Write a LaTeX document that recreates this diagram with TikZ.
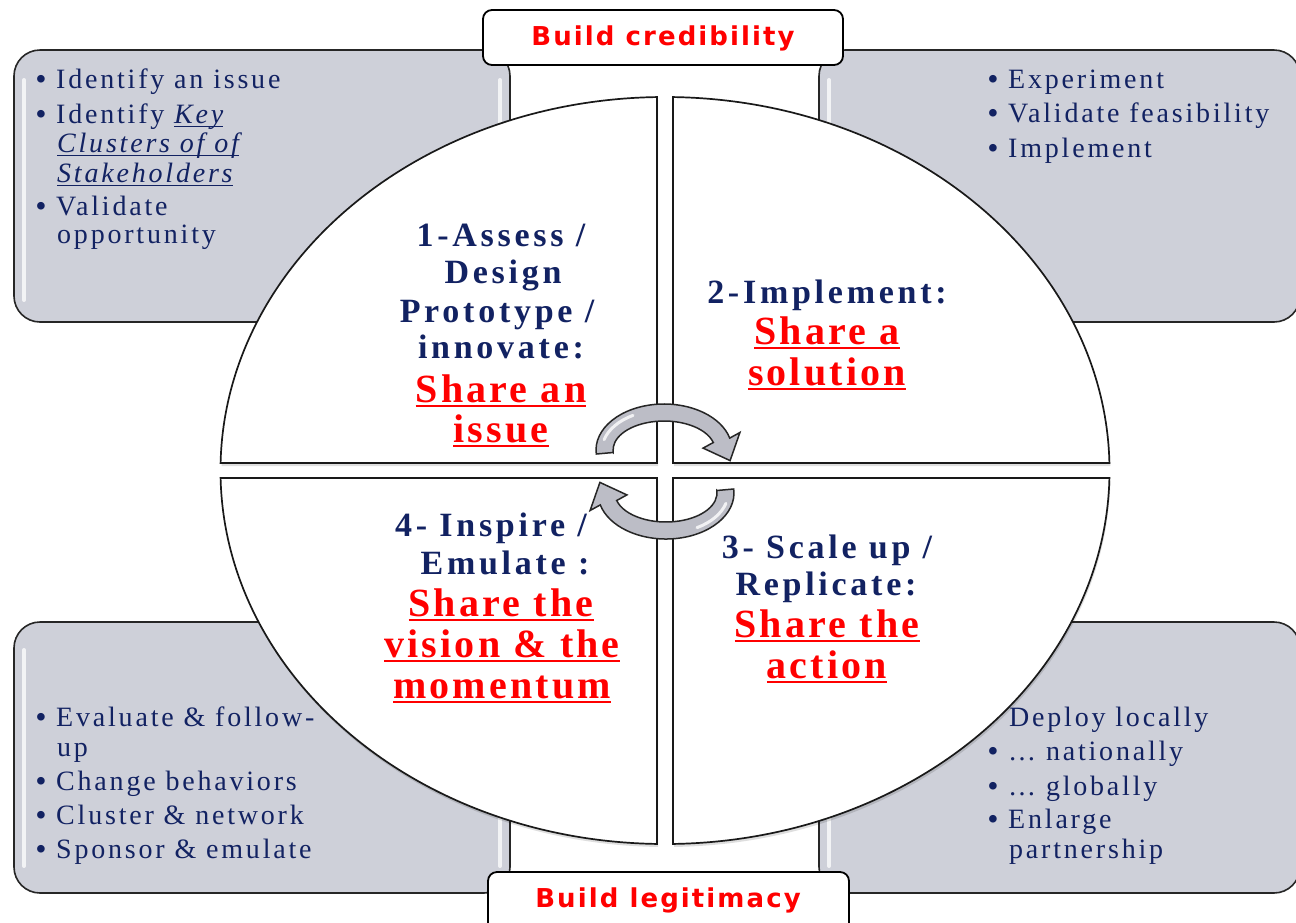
\documentclass[tikz,border=0pt]{standalone}
\usepackage{fontspec}
\setmainfont{Liberation Serif}
\newfontfamily\bfnt[LetterSpace=10]{Liberation Serif}
\newfontfamily\qfnt[LetterSpace=11]{Liberation Serif}
\newfontfamily\rfnt[LetterSpace=8]{Liberation Serif}
\newfontfamily\lfnt[LetterSpace=8]{DejaVu Sans}
\definecolor{navyc}{RGB}{18,34,98}
\definecolor{boxgray}{RGB}{206,208,217}
\definecolor{arrgray}{RGB}{188,189,198}
\definecolor{redc}{RGB}{255,0,0}
\newcommand\myul[3]{\setbox0=\hbox{#3}\rlap{\rule[-#1]{\wd0}{#2}}\box0}
\newcommand\rul[1]{\myul{5pt}{2.2pt}{#1}}
\newcommand\nul[1]{\myul{4pt}{1.3pt}{\itshape #1}}
\newcommand\bu{\makebox[20pt][l]{\bfseries •}}
\newcommand\qTL{(657,463) -- (657,97.06) arc[start angle=268.97,end angle=181.15,x radius=444.5,y radius=373.5] -- cycle}
\newcommand\qTR{(673,463) -- (673,97.06) arc[start angle=271.03,end angle=358.85,x radius=444.5,y radius=373.5] -- cycle}
\newcommand\qBL{(657,478) -- (657,843.94) arc[start angle=91.03,end angle=178.85,x radius=444.5,y radius=373.5] -- cycle}
\newcommand\qBR{(673,478) -- (673,843.94) arc[start angle=88.97,end angle=1.15,x radius=444.5,y radius=373.5] -- cycle}
\newcommand\cycarrow{%
  \draw[arrowshape] (-50.8,2.5) -- (-67.7,4.0) arc[start angle=175,end angle=345,x radius=68,y radius=46] -- (75.9,-17.5) -- (66.1,10.6) -- (39.1,-1.9) -- (49.3,-7.5) arc[start angle=345,end angle=175,x radius=51,y radius=29] -- cycle;
  \draw[white, line width=3pt, opacity=0.8, line cap=round] (0,0) ++(195:62 and 40) arc[start angle=195,end angle=240,x radius=62,y radius=40];}
\tikzset{
  gbox/.style={draw=black!85, line width=1.6pt, fill=boxgray, rounded corners=26pt},
  lbox/.style={draw=black, line width=1.8pt, fill=white, rounded corners=9pt},
  quad/.style={draw=black!90, line width=1.7pt, fill=white},
  qshadow/.style={fill=black, opacity=0.13},
  hilite/.style={draw=white, line width=4pt, opacity=0.75, line cap=round},
  arrowshape/.style={draw=black!85, line width=1.5pt, fill=arrgray},
  bul/.style={anchor=base west, inner sep=0pt, text=navyc, font=\bfnt\fontsize{28}{30}\selectfont},
  ttl/.style={anchor=base, inner sep=0pt, text=navyc, font=\qfnt\bfseries\fontsize{34}{37}\selectfont},
  shr/.style={anchor=base, inner sep=0pt, text=redc, font=\rfnt\bfseries\fontsize{40}{41}\selectfont},
  lbl/.style={anchor=base, inner sep=0pt, text=redc, font=\lfnt\bfseries\fontsize{26}{30}\selectfont},
}
\begin{document}
\begin{tikzpicture}[x=1pt,y=1pt,yscale=-1]
\useasboundingbox (0,0) rectangle (1296,922);
\clip (0,0) rectangle (1296,922);
\fill[white] (0,0) rectangle (1296,922);
% corner boxes
\draw[gbox] (14,50) rectangle (510,322);
\draw[gbox] (819,50) rectangle (1300,322);
\draw[gbox] (14,622) rectangle (510,893);
\draw[gbox] (819,622) rectangle (1300,893);
\draw[hilite] (24,80) -- (24,300) (500,80) -- (500,300);
\draw[hilite] (829,80) -- (829,300);
\draw[hilite] (24,650) -- (24,866) (500,650) -- (500,866);
\draw[hilite] (829,650) -- (829,866);
% label boxes
\draw[lbox] (483,10) rectangle (843,65);
\draw[lbox] (488,872) rectangle (849,945);
\node[lbl] (cred) at (663,45) {Build credibility};
\node[lbl] (legit) at (668,907) {Build legitimacy};
% quadrants
\fill[qshadow, shift={(1,3)}] \qTL;
\fill[qshadow, shift={(1,3)}] \qTR;
\fill[qshadow, shift={(1,3)}] \qBL;
\fill[qshadow, shift={(1,3)}] \qBR;
\draw[quad] \qTL;
\draw[quad] \qTR;
\draw[quad] \qBL;
\draw[quad] \qBR;
% cycle arrows
\begin{scope}[shift={(664,450)}]
\cycarrow
\end{scope}
\begin{scope}[shift={(666,493)}, rotate=180]
\cycarrow
\end{scope}
% quadrant texts
\node[ttl] (a1) at (501,246) {1-Assess /};
\node[ttl] (a2) at (503,283) {Design};
\node[ttl] (a3) at (497,322) {Prototype /};
\node[ttl] (a4) at (501,358) {innovate:};
\node[shr] (a5) at (501,402) {\rul{Share an}};
\node[shr] (a6) at (501,442) {\rul{issue}};
\node[ttl] (b1) at (827,303) {2-Implement:};
\node[shr] (b2) at (827,344) {\rul{Share a}};
\node[shr] (b3) at (827,385) {\rul{solution}};
\node[ttl] (c1) at (827,558) {3- Scale up /};
\node[ttl] (c2) at (826,595) {Replicate:};
\node[shr] (c3) at (827,637) {\rul{Share the}};
\node[shr] (c4) at (827,678) {\rul{action}};
\node[ttl] (d1) at (491,536) {4- Inspire /};
\node[ttl] (d2) at (505,574) {Emulate :};
\node[shr] (d3) at (501,616) {\rul{Share the}};
\node[shr] (d4) at (502,657) {\rul{vision \& the}};
\node[shr] (d5) at (502,698) {\rul{momentum}};
% bullet texts
\node[bul] (tl1) at (36,88) {\bu Identify an issue};
\node[bul] (tl2) at (36,123) {\bu Identify \nul{Key}};
\node[bul] (tl3) at (57,152) {\nul{Clusters of of}};
\node[bul] (tl4) at (57,182) {\nul{Stakeholders}};
\node[bul] (tl5) at (36,215) {\bu Validate};
\node[bul] (tl6) at (57,243) {opportunity};
\node[bul] (tr1) at (988,88) {\bu Experiment};
\node[bul] (tr2) at (988,122) {\bu Validate feasibility};
\node[bul] (tr3) at (988,157) {\bu Implement};
\node[bul] (bl1) at (36,726) {\bu Evaluate \& follow-};
\node[bul] (bl2) at (57,756) {up};
\node[bul] (bl3) at (36,790) {\bu Change behaviors};
\node[bul] (bl4) at (36,824) {\bu Cluster \& network};
\node[bul] (bl5) at (36,858) {\bu Sponsor \& emulate};
\node[bul] (br1) at (1009,726) {Deploy locally};
\node[bul] (br2) at (988,760) {\bu … nationally};
\node[bul] (br3) at (988,795) {\bu … globally};
\node[bul] (br4) at (988,828) {\bu Enlarge};
\node[bul] (br5) at (1009,858) {partnership};
\end{tikzpicture}
\end{document}
